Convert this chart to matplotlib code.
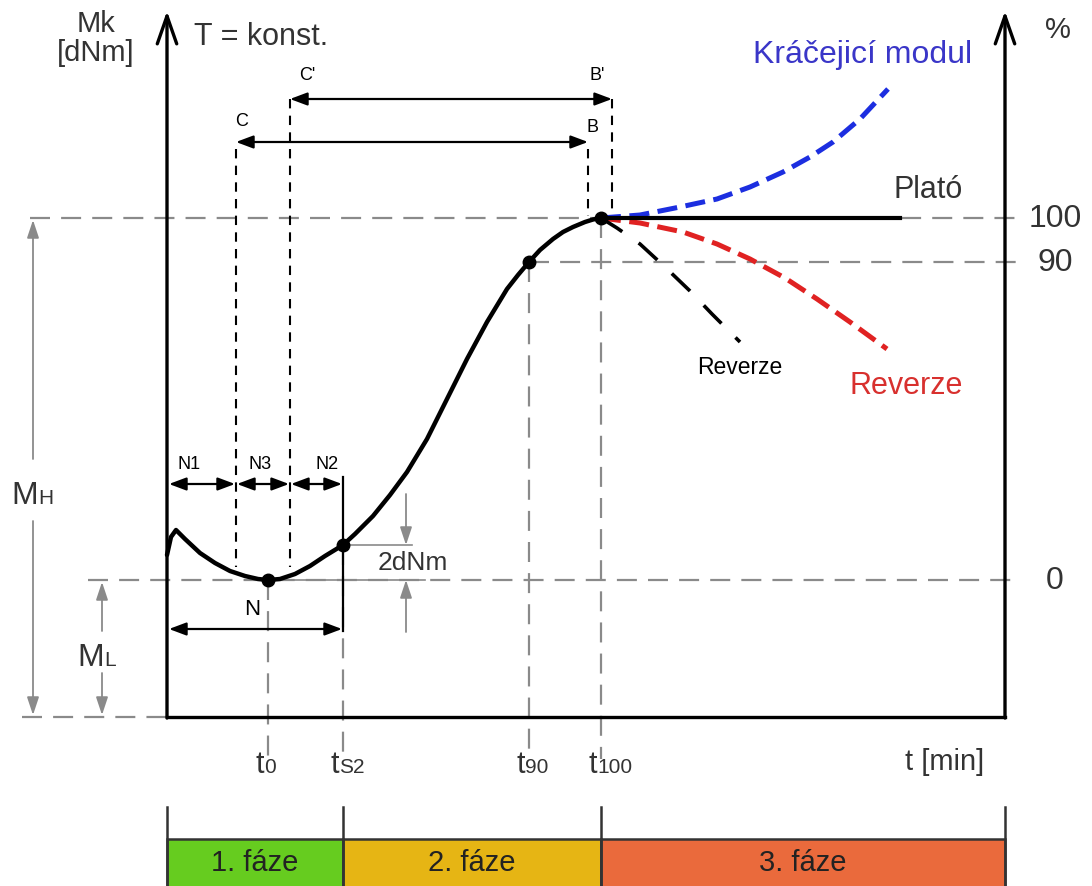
import matplotlib.pyplot as plt

plt.rcParams['font.family'] = ['Liberation Sans', 'DejaVu Sans']

# diagram drawn in image pixel units (x right, y down)
curve_x = [167, 171, 176, 185, 200, 215, 230, 245, 258, 268, 280, 295, 310, 325, 343,
           355, 373, 390, 407, 427, 447, 467, 487, 507, 518, 529, 540, 553, 563, 573,
           585, 593, 601]
curve_y = [556, 538, 531, 540, 554, 564, 572, 577, 580, 581, 580, 575, 567, 557, 546,
           535, 517, 496, 473, 440, 400, 360, 323, 290, 276, 263, 251, 240, 233, 228,
           223, 220.5, 219]

plateau_x = [601, 900]
plateau_y = [219, 219]
modul_x = [601, 640, 680, 717, 750, 783, 810, 833, 860, 888]
modul_y = [219, 216, 208, 200, 188, 173, 158, 143, 120, 90]
rev_x = [601, 640, 683, 717, 750, 785, 817, 850, 887]
rev_y = [219, 224, 233, 245, 260, 279, 300, 323, 350]
rev2_x = [601, 617, 640, 665, 690, 712, 740]
rev2_y = [219, 229, 245, 268, 292, 315, 343]

key_x = [268, 343, 529, 601]
key_y = [581, 546, 263, 219]

level_names = ['100', '90', '0']
level_y = [219, 263, 581]
level_from = [30, 529, 88]

tick_x = [268, 343, 529, 601]
tick_main = ['t', 't', 't', 't']
tick_sub = ['0', 'S2', '90', '100']

phase_edges = [167, 343, 601, 1005]
phase_labels = ['1. fáze', '2. fáze', '3. fáze']
phase_colors = ['#66cc1f', '#e6b514', '#ea6a3c']

x0, x1, ybase = 167, 1005, 718
gray = '#8a8a8a'
txt = '#333333'

fig = plt.figure(figsize=(10.92, 8.87), dpi=100)
ax = fig.add_axes([0, 0, 1, 1])
ax.set_xlim(0, 1092)
ax.set_ylim(887, 0)
ax.axis('off')

# gray dashed reference levels
for name, y, xs in zip(level_names, level_y, level_from):
    ax.plot([xs, 1020], [y, y], color=gray, lw=1.6, dashes=(9, 5), zorder=1)
    ax.text(1055, y, name, fontsize=23, color=txt, ha='center', va='center')
ax.plot([22, x0], [ybase, ybase], color=gray, lw=1.6, dashes=(9, 5), zorder=1)
ax.plot([268, 425], [581, 581], color=gray, lw=1.2, zorder=1)

# vertical time markers
for x, y in zip(tick_x, key_y):
    ax.plot([x, x], [y, 760], color=gray, lw=1.6, dashes=(9, 5), zorder=1)
for x, m, s in zip(tick_x, tick_main, tick_sub):
    ax.text(x - 4, 773, m, fontsize=22, color=txt, ha='right', va='baseline')
    ax.text(x - 4, 773, s, fontsize=15, color=txt, ha='left', va='baseline')
ax.text(945, 770, 't [min]', fontsize=21, color=txt, ha='center', va='baseline')

# axes
arrow_up = dict(arrowstyle='->,head_length=1.0,head_width=0.35', lw=2.4,
                color='black', mutation_scale=20, shrinkA=0, shrinkB=0)
ax.annotate('', xy=(x0, 12), xytext=(x0, ybase + 1), arrowprops=arrow_up, zorder=4)
ax.annotate('', xy=(x1, 12), xytext=(x1, ybase + 1), arrowprops=arrow_up, zorder=4)
ax.plot([x0, x1], [ybase, ybase], color='black', lw=2.4, solid_capstyle='projecting', zorder=4)

ax.text(96, 24, 'Mk', fontsize=21, color=txt, ha='center', va='center')
ax.text(96, 53, '[dNm]', fontsize=21, color=txt, ha='center', va='center')
ax.text(194, 37, 'T = konst.', fontsize=22, color=txt, ha='left', va='center')
ax.text(1058, 30, '%', fontsize=21, color=txt, ha='center', va='center')

# MH / ML dimension arrows
gray_arrow = dict(arrowstyle='-|>,head_length=0.9,head_width=0.3', lw=1.3,
                  color=gray, mutation_scale=12, shrinkA=0, shrinkB=0)
ax.annotate('', xy=(33, 221), xytext=(33, 460), arrowprops=gray_arrow)
ax.annotate('', xy=(33, 716), xytext=(33, 522), arrowprops=gray_arrow)
ax.text(38, 504, 'M', fontsize=23, color=txt, ha='right', va='baseline')
ax.text(38, 504, 'H', fontsize=15, color=txt, ha='left', va='baseline')
ax.annotate('', xy=(102, 583), xytext=(102, 632), arrowprops=gray_arrow)
ax.annotate('', xy=(102, 716), xytext=(102, 674), arrowprops=gray_arrow)
ax.text(104, 666, 'M', fontsize=23, color=txt, ha='right', va='baseline')
ax.text(104, 666, 'L', fontsize=15, color=txt, ha='left', va='baseline')

# 2dNm marker
ax.plot([343, 412], [546, 546], color=gray, lw=1.2, zorder=1)
ax.annotate('', xy=(406, 546), xytext=(406, 495), arrowprops=gray_arrow)
ax.annotate('', xy=(406, 581), xytext=(406, 633), arrowprops=gray_arrow)
ax.text(413, 563, '2dNm', fontsize=19, color=txt, ha='center', va='center')

# black dashed construction lines
for x, ytop in [(236, 150), (290, 100), (588, 150), (612, 100)]:
    yb = 568 if x < 400 else 217
    ax.plot([x, x], [ytop, yb], color='black', lw=1.5, dashes=(4.5, 3.5), zorder=2)

dbl = dict(arrowstyle='<|-|>,head_length=0.8,head_width=0.3', lw=1.6,
           color='black', mutation_scale=13, shrinkA=0, shrinkB=0)
ax.annotate('', xy=(290, 100), xytext=(612, 100), arrowprops=dbl)
ax.annotate('', xy=(236, 143), xytext=(588, 143), arrowprops=dbl)
ax.annotate('', xy=(169, 485), xytext=(235, 485), arrowprops=dbl)
ax.annotate('', xy=(237, 485), xytext=(289, 485), arrowprops=dbl)
ax.annotate('', xy=(291, 485), xytext=(342, 485), arrowprops=dbl)
ax.annotate('', xy=(169, 630), xytext=(342, 630), arrowprops=dbl)
ax.plot([343, 343], [478, 632], color='black', lw=1.6, zorder=2)

for s, x, y in [("C'", 307, 75), ("B'", 597, 75), ('C', 242, 121), ('B', 592, 127),
                ('N1', 189, 465), ('N3', 260, 465), ('N2', 327, 465)]:
    ax.text(x, y, s, fontsize=13, color='black', ha='center', va='center')
ax.text(252, 610, 'N', fontsize=16, color='black', ha='center', va='center')

# cure curve and its continuations
ax.plot(modul_x, modul_y, color='#1c2ee0', lw=3.6, dashes=(4, 1.7), zorder=3)
ax.plot(rev_x, rev_y, color='#e02222', lw=3.6, dashes=(4, 1.7), zorder=3)
ax.plot(rev2_x, rev2_y, color='black', lw=2.6, dashes=(7, 5.5), zorder=3)
ax.plot(plateau_x, plateau_y, color='black', lw=3, zorder=3)
ax.plot(curve_x, curve_y, color='black', lw=3.2, solid_capstyle='round',
        solid_joinstyle='round', zorder=5)
ax.plot(key_x, key_y, 'o', color='black', ms=9, zorder=6)

ax.text(863, 55, 'Kráčejicí modul', fontsize=23, color='#3a36c8', ha='center', va='center')
ax.text(928, 190, 'Plató', fontsize=22, color=txt, ha='center', va='center')
ax.text(906, 386, 'Reverze', fontsize=22, color='#d8302e', ha='center', va='center')
ax.text(740, 368, 'Reverze', fontsize=16.5, color='black', ha='center', va='center')

# phase bar
for x in phase_edges:
    ax.plot([x, x], [808, 887], color='#333333', lw=1.8, zorder=3)
for a, b, lab, c in zip(phase_edges[:-1], phase_edges[1:], phase_labels, phase_colors):
    ax.add_patch(plt.Rectangle((a, 840), b - a, 50, facecolor=c, edgecolor='#333333', lw=1.8))
    ax.text((a + b) / 2, 863, lab, fontsize=21, color='#222222', ha='center', va='center')

fig.savefig('out.png', dpi=100)
